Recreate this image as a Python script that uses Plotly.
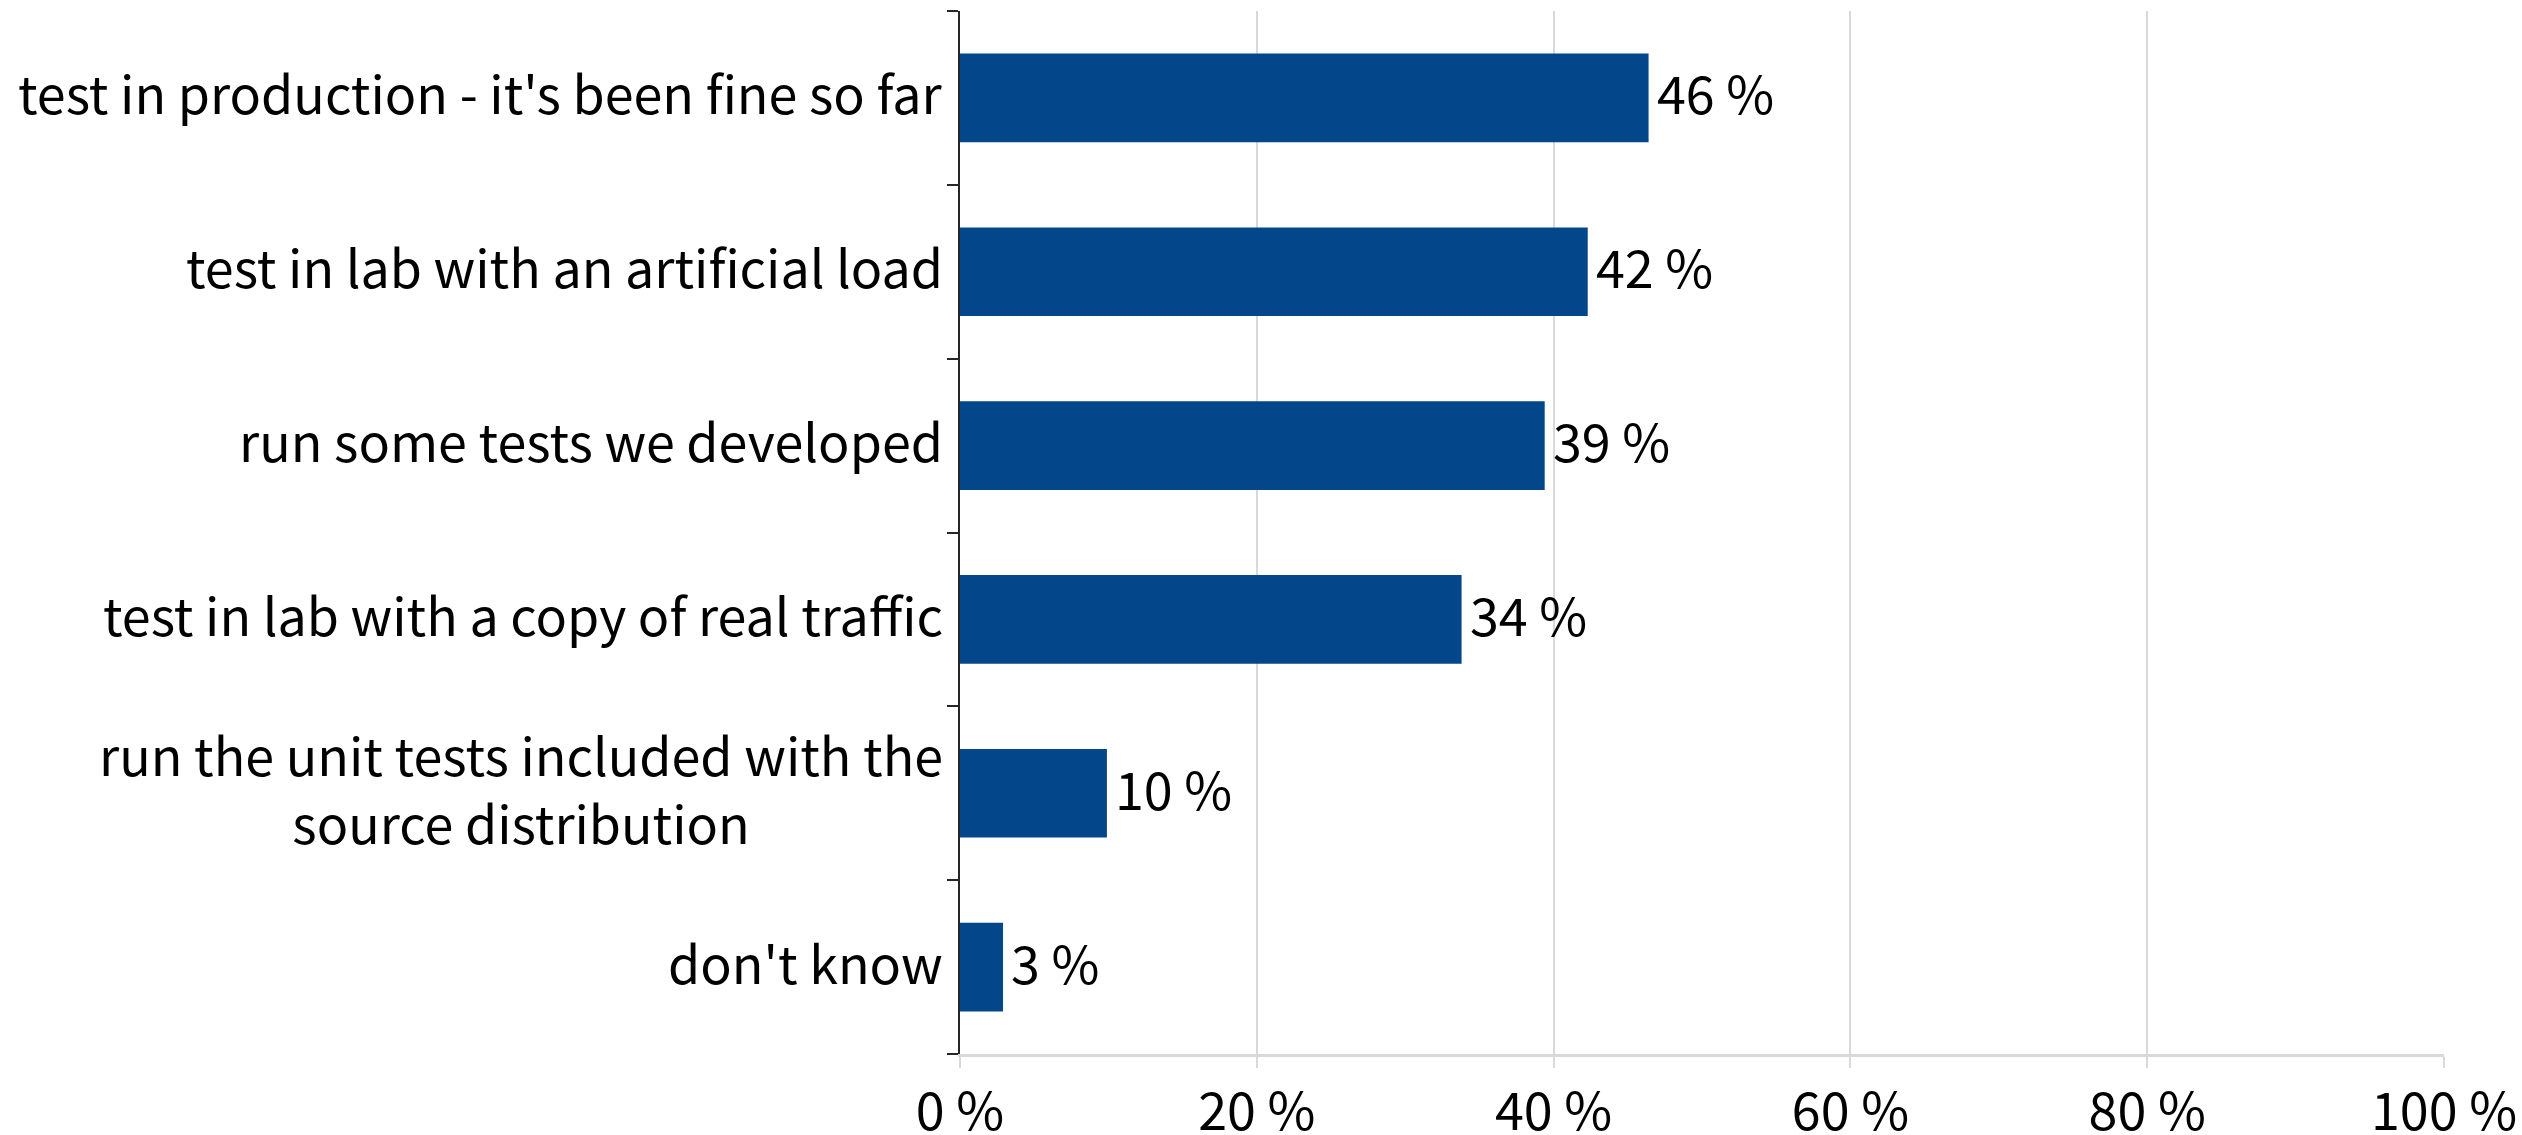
import plotly.graph_objects as go

# Survey answers (top to bottom) and their shares in percent
categories = [
    "test in production - it's been fine so far",
    "test in lab with an artificial load",
    "run some tests we developed",
    "test in lab with a copy of real traffic",
    "run the unit tests included with the<br>source distribution",
    "don't know",
]
shares = [46.4, 42.3, 39.4, 33.8, 9.9, 2.9]

x_ticks = [0, 20, 40, 60, 80, 100]
x_tick_labels = [f"{t} %" for t in x_ticks]

FONT = "Noto Sans CJK SC"
BAR_COLOR = "#03468A"
GRID = "#d9d9d9"
TEXT_LIFT = 6  # nudge text up so it sits centred on the bars

fig = go.Figure(
    go.Bar(
        x=shares,
        y=categories,
        orientation="h",
        marker=dict(color=BAR_COLOR, line=dict(width=0)),
        hoverinfo="skip",
    )
)

# Value labels just past the end of each bar
for cat, val in zip(categories, shares):
    fig.add_annotation(
        x=val, xref="x", y=cat, yref="y",
        text=f"{val:.0f} %", showarrow=False,
        xanchor="left", yanchor="middle",
        xshift=6, yshift=TEXT_LIFT,
        font=dict(family=FONT, size=52, color="#000000"),
    )

# Category labels as centred, right-anchored annotations
for cat in categories:
    fig.add_annotation(
        x=0, xref="paper", y=cat, yref="y",
        text=cat, showarrow=False,
        xanchor="right", yanchor="middle", align="center",
        xshift=-15, yshift=TEXT_LIFT,
        font=dict(family=FONT, size=52, color="#000000"),
    )

fig.update_layout(
    width=2522, height=1135,
    margin=dict(l=960, r=78, t=11, b=81, autoexpand=False),
    paper_bgcolor="white", plot_bgcolor="white",
    bargap=0.49,
    showlegend=False,
    font=dict(family=FONT, color="#000000"),
)

fig.update_xaxes(
    range=[0, 100],
    tickvals=x_ticks, ticktext=x_tick_labels,
    tickfont=dict(family=FONT, size=52, color="#000000"),
    showgrid=True, gridcolor=GRID, gridwidth=1.5,
    zeroline=False,
    showline=True, linecolor=GRID, linewidth=3,
    ticks="outside", ticklen=11, tickcolor=GRID, tickwidth=1.5,
    automargin=False,
    fixedrange=True,
)

fig.update_yaxes(
    categoryorder="array", categoryarray=categories[::-1],
    showticklabels=False,
    showgrid=False, zeroline=False,
    showline=True, linecolor="#262626", linewidth=2,
    ticks="outside", ticklen=11, tickcolor="#262626", tickwidth=2,
    tickson="boundaries",
    automargin=False,
    fixedrange=True,
)

fig.write_html("out.html")
